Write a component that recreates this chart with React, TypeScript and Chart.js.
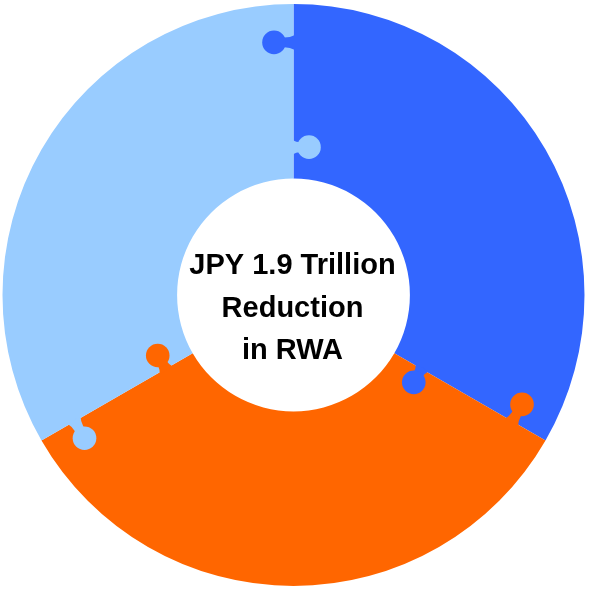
import React, { useEffect, useRef } from "react";
import { Chart, registerables } from "chart.js";

Chart.register(...registerables);

// Three equal puzzle pieces of the ring
const pieces = ["Piece 1", "Piece 2", "Piece 3"];
const pieceValues = [1, 1, 1];
const pieceColors = ["#3366FF", "#FF6600", "#99CCFF"];
const centerLines = ["JPY 1.9 Trillion", "Reduction", "in RWA"];

// Connector tabs drawn across each seam between two pieces
const puzzleTabs = {
  id: "puzzleTabs",
  afterDatasetsDraw(chart: any) {
    const meta = chart.getDatasetMeta(0);
    const arcs = meta.data;
    const ctx = chart.ctx;
    const n = arcs.length;
    const knobR = 11.8;
    const neckHalf = 4.3;
    const flare = 3.2;

    const drawKnob = (
      cx: number,
      cy: number,
      theta: number,
      dist: number,
      side: number,
      offset: number,
      color: string
    ) => {
      // point on the seam
      const bx = cx + dist * Math.cos(theta);
      const by = cy + dist * Math.sin(theta);
      // direction across the seam
      const nx = -Math.sin(theta) * side;
      const ny = Math.cos(theta) * side;
      // direction along the seam
      const tx = Math.cos(theta);
      const ty = Math.sin(theta);
      const kx = bx + nx * offset;
      const ky = by + ny * offset;
      ctx.save();
      ctx.fillStyle = color;
      ctx.beginPath();
      // neck with a slight flare at the base
      const b0x = bx - nx * 1.5;
      const b0y = by - ny * 1.5;
      const mx = bx + nx * (offset * 0.4);
      const my = by + ny * (offset * 0.4);
      ctx.moveTo(b0x + tx * (neckHalf + flare), b0y + ty * (neckHalf + flare));
      ctx.quadraticCurveTo(
        mx + tx * neckHalf * 0.6,
        my + ty * neckHalf * 0.6,
        kx + tx * neckHalf * 1.6,
        ky + ty * neckHalf * 1.6
      );
      ctx.lineTo(kx - tx * neckHalf * 1.6, ky - ty * neckHalf * 1.6);
      ctx.quadraticCurveTo(
        mx - tx * neckHalf * 0.6,
        my - ty * neckHalf * 0.6,
        b0x - tx * (neckHalf + flare),
        b0y - ty * (neckHalf + flare)
      );
      ctx.closePath();
      ctx.fill();
      ctx.beginPath();
      ctx.arc(kx, ky, knobR, 0, Math.PI * 2);
      ctx.fill();
      ctx.restore();
    };

    for (let i = 0; i < n; i++) {
      const arc = arcs[i];
      const prev = arcs[(i - 1 + n) % n];
      const { x, y, startAngle, innerRadius, outerRadius } = arc.getProps(
        ["x", "y", "startAngle", "innerRadius", "outerRadius"],
        true
      );
      const ring = outerRadius - innerRadius;
      const colorHere = arc.options.backgroundColor;
      const colorPrev = prev.options.backgroundColor;
      // outer tab: this piece reaching back into the previous one
      drawKnob(x, y, startAngle, innerRadius + ring * 0.78, -1, 19.5, colorHere);
      // inner tab: previous piece reaching forward into this one
      drawKnob(x, y, startAngle, innerRadius + ring * 0.18, 1, 15.5, colorPrev);
    }
  },
};

// Caption in the hole of the ring
const centerCaption = {
  id: "centerCaption",
  afterDraw(chart: any) {
    const arc = chart.getDatasetMeta(0).data[0];
    if (!arc) return;
    const { x, y } = arc.getProps(["x", "y"], true);
    const ctx = chart.ctx;
    ctx.save();
    ctx.fillStyle = "#000000";
    ctx.font = "bold 29px 'Liberation Sans', Arial, sans-serif";
    ctx.textAlign = "center";
    ctx.textBaseline = "alphabetic";
    const lineGap = 42.6;
    centerLines.forEach((line, i) => {
      ctx.fillText(line, x - 1, y - 21 + i * lineGap);
    });
    ctx.restore();
  },
};

export default function App() {
  const canvasRef = useRef<HTMLCanvasElement | null>(null);

  useEffect(() => {
    document.body.style.margin = "0";
    const canvas = canvasRef.current;
    if (!canvas) return;
    const chart = new Chart(canvas, {
      type: "doughnut",
      data: {
        labels: pieces,
        datasets: [
          {
            data: pieceValues,
            backgroundColor: pieceColors,
            borderWidth: 0,
            hoverOffset: 0,
          },
        ],
      },
      options: {
        responsive: false,
        animation: false,
        cutout: "40%",
        layout: { padding: { top: 4, bottom: 3, left: 1, right: 3 } },
        plugins: {
          legend: { display: false },
          tooltip: { enabled: false },
        },
        events: [],
      },
      plugins: [puzzleTabs, centerCaption],
    });
    return () => chart.destroy();
  }, []);

  return (
    <div style={{ width: 589, height: 589, background: "#ffffff" }}>
      <canvas ref={canvasRef} width={589} height={589} />
    </div>
  );
}
